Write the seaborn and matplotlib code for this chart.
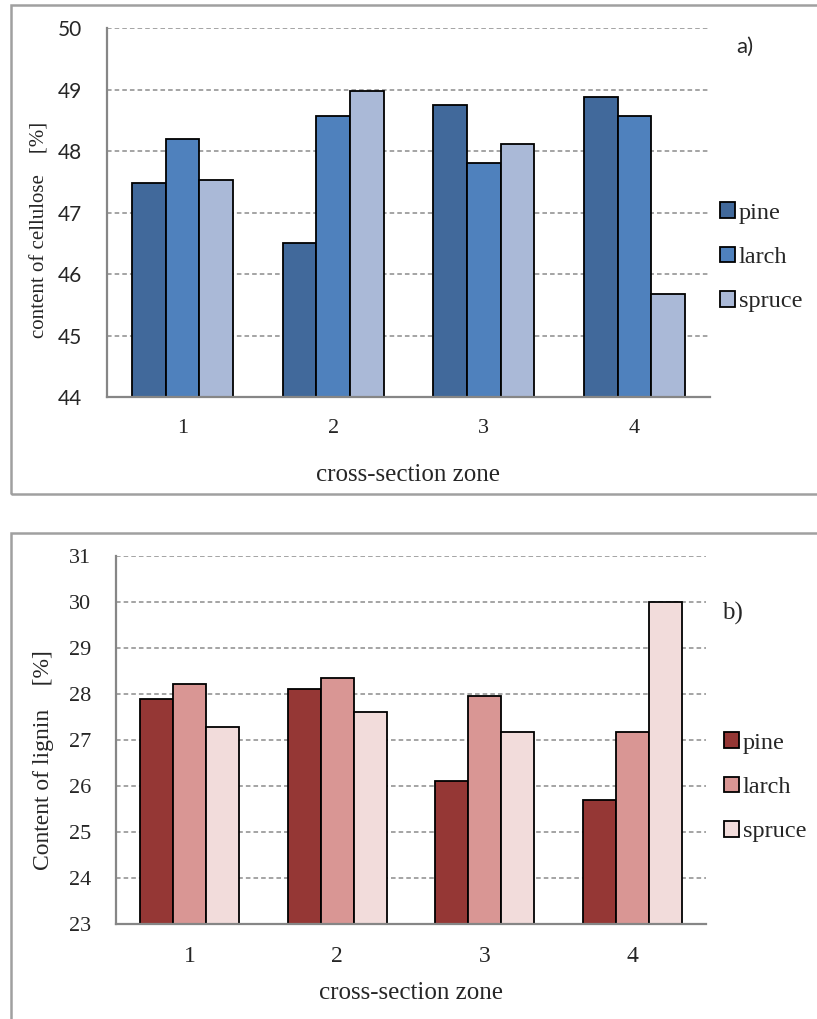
import pandas as pd
import matplotlib.pyplot as plt
import seaborn as sb
from matplotlib.patches import Rectangle

sb.set_style('white')
plt.rcParams['font.family'] = ['Liberation Serif', 'DejaVu Serif']

zones = ['1', '2', '3', '4']
species = ['pine', 'larch', 'spruce']

cellulose_pine = [47.48, 46.50, 48.75, 48.88]
cellulose_larch = [48.20, 48.57, 47.80, 48.57]
cellulose_spruce = [47.53, 48.97, 48.11, 45.67]

lignin_pine = [27.90, 28.10, 26.10, 25.70]
lignin_larch = [28.22, 28.35, 27.95, 27.17]
lignin_spruce = [27.28, 27.62, 27.17, 30.00]

blues = ['#41699b', '#4f81bd', '#aab9d7']
reds = ['#953735', '#d99694', '#f2dcdb']
grey = '#868686'


def long_table(pine, larch, spruce):
    rows = []
    for name, vals in zip(species, [pine, larch, spruce]):
        for z, v in zip(zones, vals):
            rows.append({'zone': z, 'species': name, 'value': v})
    return pd.DataFrame(rows)


def draw_panel(ax, df, colors, ylim, yfont, ytick_size, xtick_size):
    sb.barplot(data=df, x='zone', y='value', hue='species', palette=colors,
               width=0.67, edgecolor='black', linewidth=1.3, saturation=1,
               ax=ax, legend=False, zorder=3)
    ax.set_ylim(*ylim)
    ax.set_xlim(-0.5, 3.5)
    yt = list(range(ylim[0], ylim[1] + 1))
    ax.set_yticks(yt, labels=[str(v) for v in yt], family=yfont, size=ytick_size)
    ax.yaxis.grid(True, linestyle=(0, (3, 2)), color='#8c8c8c', linewidth=1.1, zorder=0)
    ax.set_axisbelow(True)
    for s in ['top', 'right']:
        ax.spines[s].set_visible(False)
    for s in ['left', 'bottom']:
        ax.spines[s].set_color(grey)
        ax.spines[s].set_linewidth(1.6)
        ax.spines[s].set_zorder(4)
    ax.set_xlabel('')
    ax.set_ylabel('')
    ax.set_xticks(range(4), labels=zones, family='Liberation Serif', size=xtick_size)
    ax.tick_params(axis='x', which='major', length=0, pad=16)
    ax.set_xticks([-0.5, 0.5, 1.5, 2.5, 3.5], minor=True)
    ax.tick_params(axis='x', which='minor', length=6, width=1.4, color=grey, direction='out')
    ax.tick_params(axis='y', length=6, width=1.4, color=grey, direction='out', pad=12)
    handles = [Rectangle((0, 0), 1, 1, facecolor=c, edgecolor='black', linewidth=1.3) for c in colors]
    return handles


legend_font = {'family': 'Liberation Serif', 'size': 17.5}

fig = plt.figure(figsize=(8.17, 10.19), dpi=100)

# panel frames
fig.patches.append(Rectangle((0.0135, 0.515), 1.2, 0.48, transform=fig.transFigure,
                             fill=False, edgecolor='#a0a0a0', linewidth=1.8))
fig.patches.append(Rectangle((0.0135, -0.1), 1.2, 0.577, transform=fig.transFigure,
                             fill=False, edgecolor='#a0a0a0', linewidth=1.8))

ax1 = fig.add_axes([0.131, 0.6104, 0.738, 0.3621])
h1 = draw_panel(ax1, long_table(cellulose_pine, cellulose_larch, cellulose_spruce),
                blues, (44, 50), 'Lato', 15, 16)
ax1.legend(h1, species, loc='upper left', bbox_to_anchor=(0.855, 0.8229),
           bbox_transform=fig.transFigure, frameon=False, prop=legend_font,
           handlelength=0.6, handleheight=0.6, handletextpad=0.15, labelspacing=0.95)
fig.text(745 / 817, 1 - 47 / 1019, 'a)', family='Lato', fontsize=16,
         ha='center', va='center')
fig.text(40 / 817, 1 - 230 / 1019, 'content of cellulose    [%]', rotation=90,
         fontsize=15, ha='center', va='center')
fig.text(408 / 817, 1 - 475 / 1019, 'cross-section zone', fontsize=18,
         ha='center', va='center')

ax2 = fig.add_axes([0.142, 0.0932, 0.722, 0.3611])
h2 = draw_panel(ax2, long_table(lignin_pine, lignin_larch, lignin_spruce),
                reds, (23, 31), 'Liberation Serif', 16, 17)
ax2.legend(h2, species, loc='upper left', bbox_to_anchor=(0.86, 0.3027),
           bbox_transform=fig.transFigure, frameon=False, prop=legend_font,
           handlelength=0.6, handleheight=0.6, handletextpad=0.15, labelspacing=0.95)
fig.text(732 / 817, 1 - 613 / 1019, 'b)', fontsize=18, ha='center', va='center')
fig.text(44 / 817, 1 - 760 / 1019, 'Content of lignin    [%]', rotation=90,
         fontsize=17, ha='center', va='center')
fig.text(411 / 817, 1 - 993 / 1019, 'cross-section zone', fontsize=18,
         ha='center', va='center')

fig.savefig('out.png', dpi=100)
